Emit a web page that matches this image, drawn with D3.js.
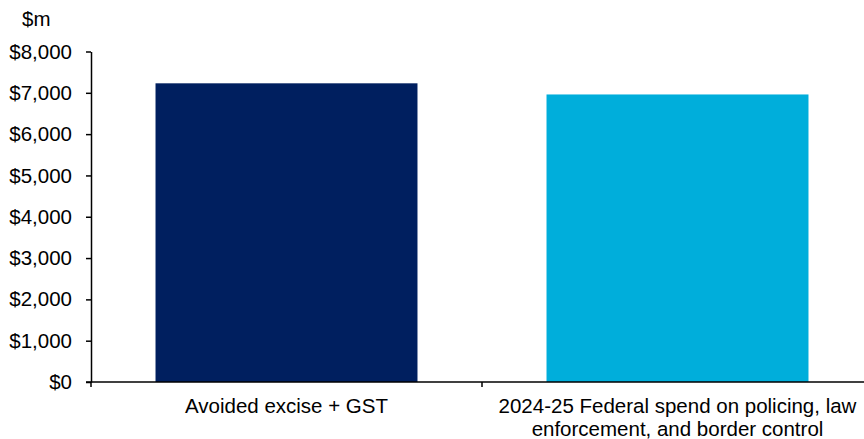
<!DOCTYPE html>
<html><head><meta charset="utf-8">
<script src="https://cdn.jsdelivr.net/npm/d3@7"></script>
<style>body{margin:0;background:#fff}svg{display:block}text{font-family:"Liberation Sans",Arial,sans-serif;fill:#000}</style>
</head><body><svg id="c" width="864" height="439"></svg>
<script>
const categories = ["Avoided excise + GST", "2024-25 Federal spend on policing, law enforcement, and border control"];
const labelLines = [["Avoided excise + GST"], ["2024-25 Federal spend on policing, law", "enforcement, and border control"]];
const values = [7230, 6960];
const colors = ["#001f5f", "#00aedb"];
const yTicks = [0, 1000, 2000, 3000, 4000, 5000, 6000, 7000, 8000];
const unitLabel = "$m";

const svg = d3.select("#c");
const x = d3.scaleBand().domain(categories).range([91, 873]).paddingInner(0.33).paddingOuter(0.165);
const y = d3.scaleLinear().domain([0, 8000]).range([382, 51.5]);

svg.selectAll("rect.bar").data(values).join("rect")
  .attr("x", (d, i) => x(categories[i])).attr("width", x.bandwidth())
  .attr("y", d => y(d)).attr("height", d => y(0) - y(d)).attr("fill", (d, i) => colors[i]);

const fmt = d => "$" + d3.format(",")(d);
const ya = svg.append("g").attr("transform", "translate(91,0)")
  .call(d3.axisLeft(y).tickValues(yTicks).tickFormat(fmt).tickSize(5).tickSizeOuter(0).tickPadding(14));
ya.select(".domain").attr("stroke", "#000").attr("stroke-width", 1.5);
ya.selectAll(".tick line").attr("stroke", "#000").attr("stroke-width", 1.5);
ya.selectAll("text").style("font-size", "20.5px").attr("fill", "#000");

const xa = svg.append("g").attr("transform", "translate(0,382)");
xa.append("line").attr("x1", 86).attr("x2", 873).attr("stroke", "#000").attr("stroke-width", 1.5);
[x.range()[0], (x(categories[0]) + x.bandwidth() + x(categories[1])) / 2].forEach(px => {
  xa.append("line").attr("x1", px).attr("x2", px).attr("y1", 0).attr("y2", 5).attr("stroke", "#000").attr("stroke-width", 1.5);
});
labelLines.forEach((lines, i) => {
  const cx = x(categories[i]) + x.bandwidth() / 2;
  lines.forEach((l, j) => {
    xa.append("text").attr("x", cx).attr("y", 31 + j * 23).attr("text-anchor", "middle").style("font-size", "20.5px").text(l);
  });
});
svg.append("text").attr("x", 22).attr("y", 26).style("font-size", "20.5px").text(unitLabel);
</script></body></html>
